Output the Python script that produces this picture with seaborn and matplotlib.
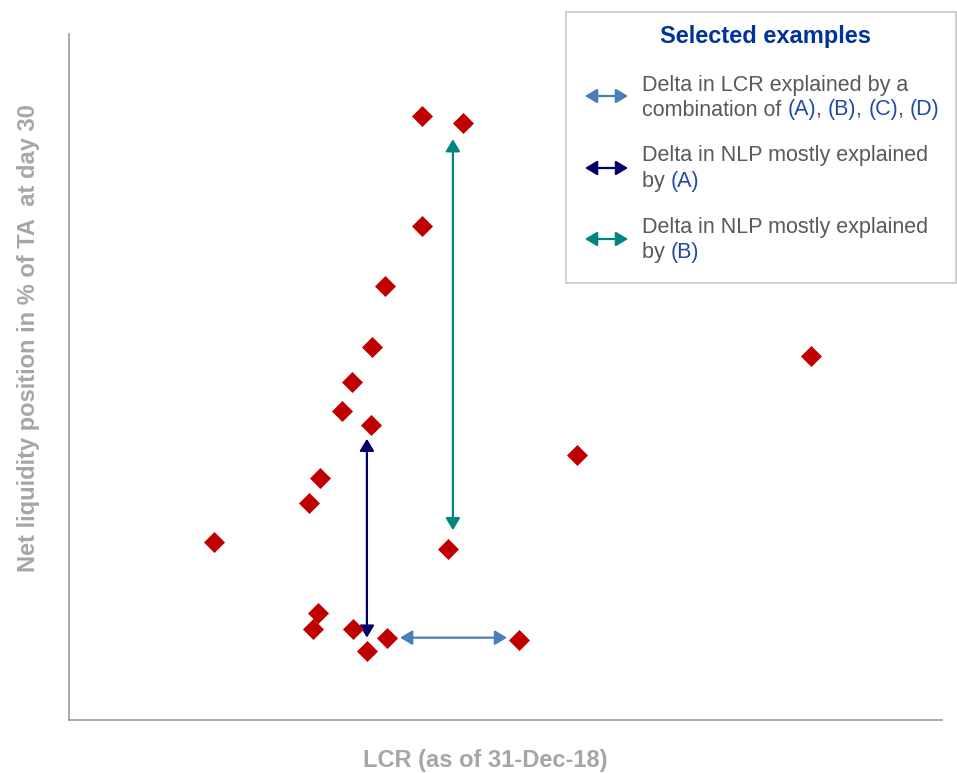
import numpy as np
import pandas as pd
import matplotlib
matplotlib.use('Agg')
import matplotlib.pyplot as plt
import seaborn as sns
from matplotlib.patches import Rectangle, FancyArrowPatch

# values (arbitrary units, no ticks shown)
lcr = [161.7, 180.5, 161.7, 144.8, 138.8, 129.7, 125.1, 138.4, 115.0, 110.0,
       66.4, 173.7, 232.8, 340.0, 114.1, 111.8, 130.1, 145.7, 136.5, 206.2]
nlp = [26.4, 26.1, 21.6, 19.0, 16.3, 14.8, 13.5, 12.9, 10.6, 9.5,
       7.8, 7.5, 11.6, 15.9, 4.7, 4.0, 4.0, 3.6, 3.0, 3.5]

# arrow examples: (x_start, y_start, x_end, y_end)
arrow_lcr = (151.7, 3.6, 200.7, 3.6)
arrow_nlp_a = (136.5, 3.6, 136.5, 12.3)
arrow_nlp_b = (175.9, 8.3, 175.9, 25.4)

x_label = 'LCR (as of 31-Dec-18)'
y_label = 'Net liquidity position in % of TA  at day 30'
legend_title = 'Selected examples'
legend_lines = [
    [[('Delta in LCR explained by a', 'g')],
     [('combination of ', 'g'), ('(A)', 'b'), (', ', 'g'), ('(B)', 'b'), (', ', 'g'),
      ('(C)', 'b'), (', ', 'g'), ('(D)', 'b')]],
    [[('Delta in NLP mostly explained', 'g')],
     [('by ', 'g'), ('(A)', 'b')]],
    [[('Delta in NLP mostly explained', 'g')],
     [('by ', 'g'), ('(B)', 'b')]],
]

RED = '#c00000'
C_LCR = '#4a7ebb'
C_A = '#000066'
C_B = '#00857f'
GREY_TXT = '#595959'
BLUE_TXT = '#1f48a8'
LABEL_GREY = '#a6a6a6'
arrow_colors = [C_LCR, C_A, C_B]

sns.set_theme(style='white')
plt.rcParams['font.family'] = ['Liberation Sans', 'DejaVu Sans']

W, H = 957, 773
fig = plt.figure(figsize=(W / 100, H / 100), dpi=100)
ax = fig.add_axes([69 / W, 1 - 720 / H, (942 - 69) / W, (720 - 34) / H])

df = pd.DataFrame({'LCR': lcr, 'NLP': nlp})
sns.scatterplot(data=df, x='LCR', y='NLP', marker='D', s=115, color=RED,
                linewidth=0, ax=ax, zorder=3)

ax.set_xlim(0, 400)
ax.set_ylim(0, 30)
ax.set_xticks([])
ax.set_yticks([])
ax.set_xlabel('')
ax.set_ylabel('')
for side in ['top', 'right']:
    ax.spines[side].set_visible(False)
for side in ['left', 'bottom']:
    ax.spines[side].set_color('#999999')
    ax.spines[side].set_linewidth(1.2)


def fx(px):
    return px / W


def fy(py):
    return 1 - py / H


# axis titles placed where the reference has them
fig.text(fx(485), fy(761), x_label, ha='center', va='center', fontsize=17,
         fontweight='bold', color=LABEL_GREY)
fig.text(fx(29), fy(338), y_label, ha='center', va='center', rotation=90,
         fontsize=17, fontweight='bold', color=LABEL_GREY)


def arrow_props(c):
    return dict(arrowstyle='<|-|>,head_length=0.6,head_width=0.36',
                mutation_scale=12, color=c, lw=1.6, shrinkA=0, shrinkB=0)


for (x0, y0, x1, y1), c in zip([arrow_lcr, arrow_nlp_a, arrow_nlp_b], arrow_colors):
    ax.annotate('', xy=(x1, y1), xytext=(x0, y0), arrowprops=arrow_props(c), zorder=2)

# legend box drawn by hand
fig.patches.append(Rectangle((fx(566), fy(283)), fx(956) - fx(566), fy(12) - fy(283),
                             transform=fig.transFigure, facecolor='white',
                             edgecolor='#c8c8c8', lw=1.2, zorder=5))
fig.text(fx(766), fy(37), legend_title, ha='center', va='center', fontsize=17,
         fontweight='bold', color='#003399', zorder=6)

renderer = fig.canvas.get_renderer()


def text_w(s, size):
    t = fig.text(0, 0, s, fontsize=size)
    w = t.get_window_extent(renderer).width
    t.remove()
    return w


FS = 15.5
space_w = text_w('a a', FS) - text_w('aa', FS)

row_y = [(85, 110), (156, 182), (227, 253)]
icon_y = [96, 168, 239]
for lines, ys, iy, c in zip(legend_lines, row_y, icon_y, arrow_colors):
    icon = FancyArrowPatch((fx(585), fy(iy)), (fx(628), fy(iy)),
                           transform=fig.transFigure, zorder=6, **arrow_props(c))
    fig.add_artist(icon)
    for parts, y in zip(lines, ys):
        x = 642
        for s, col in parts:
            fig.text(fx(x), fy(y), s, ha='left', va='center', fontsize=FS,
                     color=GREY_TXT if col == 'g' else BLUE_TXT, zorder=6)
            stripped = s.rstrip()
            x += text_w(stripped, FS) + space_w * (len(s) - len(stripped))

fig.savefig('out.png', dpi=100)
